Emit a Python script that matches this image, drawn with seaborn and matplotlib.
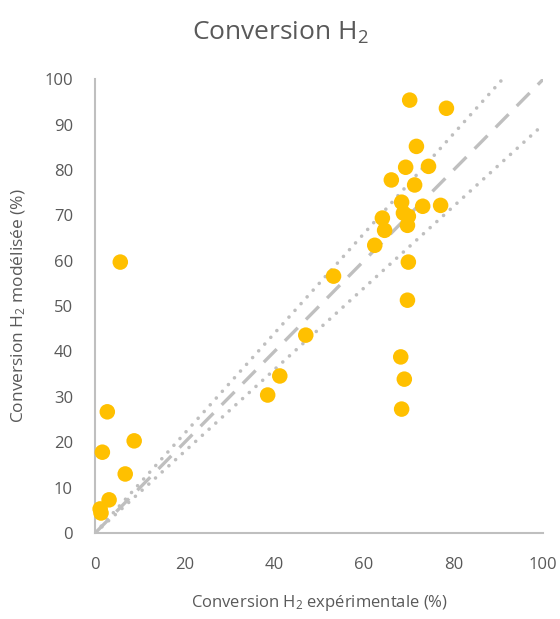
import numpy as np
import pandas as pd
import matplotlib
matplotlib.use("Agg")
import matplotlib.pyplot as plt
import seaborn as sns

# Données (conversion H2 en %)
conv_exp = [70.2, 78.4, 71.7, 66.1, 69.3, 74.4, 71.3, 68.4, 73.1, 77.1,
            68.8, 69.9, 64.1, 69.7, 64.6, 62.4, 69.9, 69.7, 68.2, 69.0,
            68.4, 53.2, 47.0, 41.2, 38.5, 5.6, 2.7, 8.7, 1.6, 6.7,
            3.1, 1.1, 1.3]
conv_mod = [95.4, 93.6, 85.2, 77.8, 80.6, 80.8, 76.7, 72.9, 72.0, 72.2,
            70.5, 69.8, 69.4, 67.8, 66.7, 63.4, 59.7, 51.3, 38.8, 33.9,
            27.3, 56.6, 43.6, 34.6, 30.4, 59.7, 26.7, 20.3, 17.8, 13.0,
            7.3, 5.3, 4.4]

# droites de référence : y = x, y = 1.1x, y = 0.9x
ref_x = [0, 100]
ratio_ref = 1.0
ratio_haut = 1.1
ratio_bas = 0.9

x_ticks = [0, 20, 40, 60, 80, 100]
y_ticks = [0, 10, 20, 30, 40, 50, 60, 70, 80, 90, 100]

sns.set_style("white")
plt.rcParams["font.family"] = ["Open Sans", "DejaVu Sans"]
plt.rcParams["mathtext.fontset"] = "custom"
plt.rcParams["mathtext.rm"] = "Open Sans"
plt.rcParams["mathtext.it"] = "Open Sans"

gris_txt = "#595959"
gris_ligne = "#BFBFBF"
jaune = "#FFC000"

df = pd.DataFrame({"exp": conv_exp, "mod": conv_mod})

fig = plt.figure(figsize=(5.6, 6.19), dpi=100)
ax = fig.add_axes([0.170, 0.139, 0.800, 0.733])

ax.plot(ref_x, [v * ratio_ref for v in ref_x], color=gris_ligne, lw=2.4,
        linestyle=(0, (5.5, 3.5)), dash_capstyle="butt", zorder=1)
for r in (ratio_haut, ratio_bas):
    ax.plot(ref_x, [v * r for v in ref_x], color=gris_ligne, lw=2.6,
            linestyle=(0, (0.01, 2.5)), dash_capstyle="round", zorder=1)

sns.scatterplot(data=df, x="exp", y="mod", ax=ax, color=jaune, s=125,
                edgecolor="none", zorder=3, clip_on=False)

ax.set_xlim(0, 100)
ax.set_ylim(0, 100)
ax.set_xticks(x_ticks)
ax.set_yticks(y_ticks)
ax.tick_params(axis="both", length=0, colors=gris_txt, labelsize=12)
ax.tick_params(axis="y", pad=16)
ax.tick_params(axis="x", pad=17)

for side in ("top", "right"):
    ax.spines[side].set_visible(False)
for side in ("left", "bottom"):
    ax.spines[side].set_color(gris_ligne)
    ax.spines[side].set_linewidth(1.5)

ax.set_xlabel("Conversion H$_2$ expérimentale (%)", color=gris_txt, fontsize=12, labelpad=15)
ax.set_ylabel("Conversion H$_2$ modélisée (%)", color=gris_txt, fontsize=12.5, labelpad=12)
fig.suptitle("Conversion H$_2$", color=gris_txt, fontsize=19, x=0.5, y=0.968)

fig.savefig("out.png", dpi=100)
plt.close(fig)
